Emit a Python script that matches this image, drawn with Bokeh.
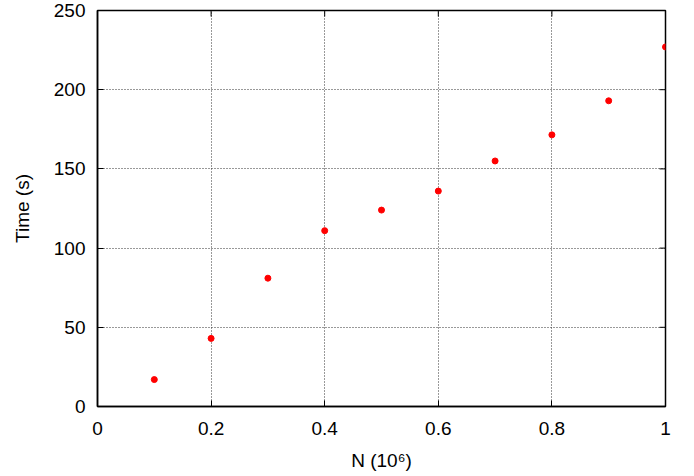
from bokeh.plotting import figure
from bokeh.models import Range1d, FixedTicker
from bokeh.embed import file_html
from bokeh.resources import INLINE

n_values = [0.1, 0.2, 0.3, 0.4, 0.5, 0.6, 0.7, 0.8, 0.9, 1.0]
time_values = [17, 43, 81, 111, 124, 136, 155, 171.5, 193, 227]
x_ticks = [0, 0.2, 0.4, 0.6, 0.8, 1.0]
y_ticks = [0, 50, 100, 150, 200, 250]

FONT = "Liberation Sans"
FS = "19px"

p = figure(width=690, height=476, output_backend="svg", toolbar_location=None,
           x_range=Range1d(0, 1), y_range=Range1d(0, 250),
           min_border_left=97, min_border_right=25, min_border_top=10, min_border_bottom=70)
p.background_fill_color = "white"
p.border_fill_color = "white"
p.outline_line_color = "black"
p.outline_line_width = 1.5

for ax in (p.xaxis[0], p.yaxis[0]):
    ax.major_tick_in = 6
    ax.major_tick_out = 0
    ax.minor_tick_in = 0
    ax.minor_tick_out = 0
    ax.axis_line_width = 1.5
    ax.major_tick_line_width = 1
    ax.major_label_text_font = FONT
    ax.major_label_text_font_size = FS
    ax.major_label_text_color = "black"
    ax.axis_label_text_font = FONT
    ax.axis_label_text_font_size = FS
    ax.axis_label_text_font_style = "normal"
    ax.axis_label_text_color = "black"

p.xaxis[0].ticker = FixedTicker(ticks=x_ticks)
p.yaxis[0].ticker = FixedTicker(ticks=y_ticks)
p.xaxis[0].major_label_overrides = {0: "0", 1: "1"}
p.xaxis[0].major_label_standoff = 15
p.yaxis[0].major_label_standoff = 12
p.xaxis[0].axis_label = "N (10⁶)"
p.yaxis[0].axis_label = "Time (s)"
p.xaxis[0].axis_label_standoff = 12
p.yaxis[0].axis_label_standoff = 18

p.xgrid.ticker = FixedTicker(ticks=x_ticks[1:-1])
p.ygrid.ticker = FixedTicker(ticks=y_ticks[1:-1])
for g in (p.xgrid, p.ygrid):
    g.grid_line_color = "#333333"
    g.grid_line_dash = "1 2"
    g.grid_line_width = 1

# mirrored inward ticks on the top and right edges (clipped to the frame)
p.scatter(x_ticks, [y_ticks[-1]] * len(x_ticks), marker="dash", angle=1.5707963,
          size=12, line_color="black", line_width=1)
p.scatter([x_ticks[-1]] * len(y_ticks), y_ticks, marker="dash",
          size=12, line_color="black", line_width=1)

p.scatter(n_values, time_values, size=6, color="#ff0000", line_color="#ff0000")

open("out.html", "w").write(file_html(p, INLINE))
